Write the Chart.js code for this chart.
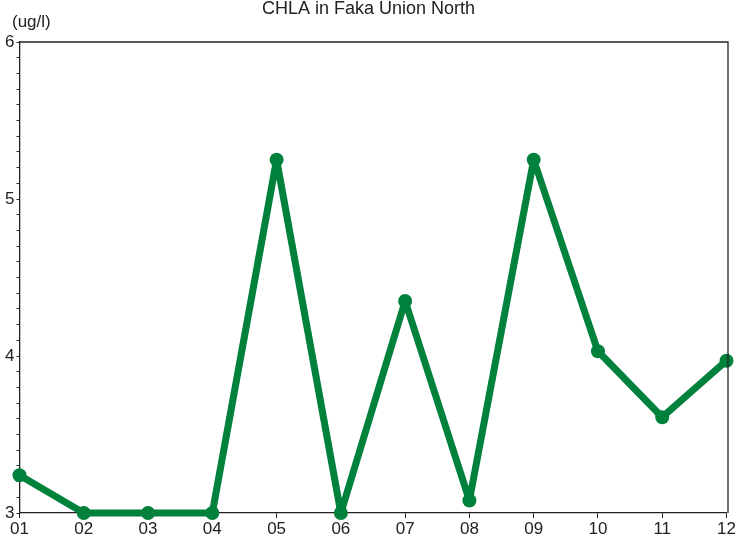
<!DOCTYPE html>
<html>
<head>
<meta charset="utf-8">
<script src="https://cdn.jsdelivr.net/npm/chart.js@4.4.1/dist/chart.umd.min.js"></script>
<style>
  html, body { margin: 0; padding: 0; background: #fff; }
  #wrap { width: 740px; height: 540px; }
</style>
</head>
<body>
<div id="wrap"><canvas id="chla" width="740" height="540"></canvas></div>
<script>
var months = ["01", "02", "03", "04", "05", "06", "07", "08", "09", "10", "11", "12"];
var chlaValues = [3.24, 3.0, 3.0, 3.0, 5.25, 3.0, 4.35, 3.08, 5.25, 4.03, 3.61, 3.97];
var yMin = 3, yMax = 6;
var chartTitle = "CHLA in Faka Union North";
var unitLabel = "(ug/l)";

var lineGreen = 'rgb(0, 130, 60)';
var inkColor = '#222';
var fontFamily = '"Liberation Sans", Arial, sans-serif';

// frame round the plot and the unit label in the corner
var framePlugin = {
    id: 'frame',
    afterDraw: function(chart) {
        var ctx = chart.ctx, a = chart.chartArea;
        ctx.save();
        ctx.strokeStyle = inkColor;
        ctx.lineWidth = 1.3;
        ctx.beginPath();
        ctx.moveTo(a.left, a.top);
        ctx.lineTo(a.right + 1.5, a.top);
        ctx.lineTo(a.right + 1.5, a.bottom);
        ctx.stroke();
        ctx.fillStyle = inkColor;
        ctx.font = '17px ' + fontFamily;
        ctx.textBaseline = 'alphabetic';
        ctx.textAlign = 'left';
        ctx.fillText(unitLabel, 12, 27);
        ctx.restore();
    }
};

var ctx = document.getElementById('chla').getContext('2d');
var chart = new Chart(ctx, {
    type: 'line',
    data: {
        labels: months,
        datasets: [{
            label: 'CHLA',
            data: chlaValues,
            borderColor: lineGreen,
            backgroundColor: lineGreen,
            borderWidth: 7,
            borderJoinStyle: 'round',
            borderCapStyle: 'round',
            pointRadius: 7,
            pointBorderWidth: 0,
            pointBackgroundColor: lineGreen,
            tension: 0,
            clip: false
        }]
    },
    options: {
        responsive: false,
        animation: false,
        layout: { padding: { top: 0, right: 3, left: 0, bottom: 0 } },
        plugins: {
            legend: { display: false },
            tooltip: { enabled: false },
            title: {
                display: true,
                text: chartTitle,
                color: inkColor,
                font: { family: fontFamily, size: 18, weight: 'normal' },
                padding: { top: -1.5, bottom: 21.9 }
            }
        },
        scales: {
            x: {
                offset: false,
                grid: { drawOnChartArea: false, drawTicks: true, tickLength: 5, color: inkColor },
                border: { color: inkColor, width: 1.3 },
                ticks: {
                    color: inkColor, padding: 1, maxRotation: 0, autoSkip: false,
                    font: { family: fontFamily, size: 17 }
                },
                afterFit: function(scale) {
                    scale.height = 27;
                    scale.paddingLeft = 0;
                    scale.paddingRight = 13.5;
                }
            },
            y: {
                min: yMin,
                max: yMax,
                grid: { drawOnChartArea: false, drawTicks: true, tickLength: 3, color: inkColor },
                border: { color: inkColor, width: 1.3 },
                ticks: {
                    stepSize: 0.1,
                    autoSkip: false,
                    color: inkColor,
                    padding: 2,
                    font: { family: fontFamily, size: 17 },
                    callback: function(v) {
                        return Math.abs(v - Math.round(v)) < 1e-6 ? String(Math.round(v)) : '';
                    }
                },
                afterFit: function(scale) {
                    scale.width = 19.5;
                }
            }
        }
    },
    plugins: [framePlugin]
});
</script>
</body>
</html>
